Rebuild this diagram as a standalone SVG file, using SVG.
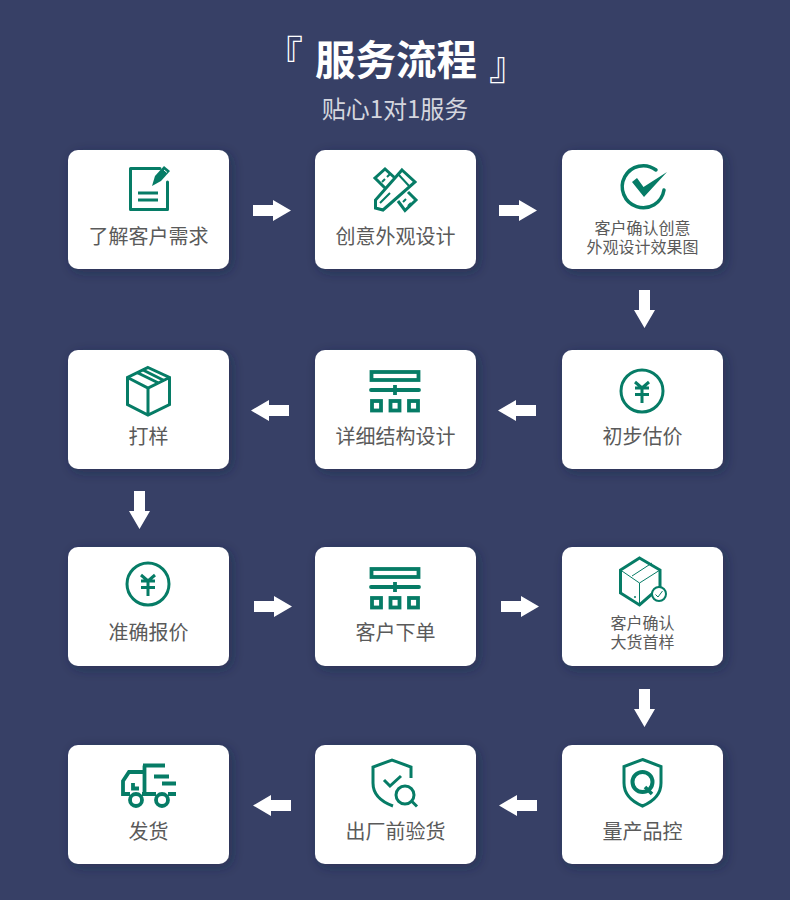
<svg xmlns="http://www.w3.org/2000/svg" width="790" height="900" viewBox="0 0 790 900">
<style>
text{font-family:"Noto Sans CJK SC","Noto Sans",sans-serif;text-anchor:middle}
.card{fill:#fff;filter:url(#sh)}
.lb{font-size:20px;fill:#5a5a5a}
.sm{font-size:16px;fill:#5a5a5a}
.ic{fill:none;stroke:#067c66;stroke-width:3;stroke-linejoin:miter}
.rd{stroke-linecap:round;stroke-linejoin:round}
.th{stroke-width:1}
.hv{stroke-width:3.800}
.f{fill:#067c66;stroke:none}
.arrow{fill:#fff}
</style>
<defs>
<filter id="sh" x="-20%" y="-20%" width="150%" height="150%"><feDropShadow dx="3" dy="3" stdDeviation="6" flood-color="#1a2040" flood-opacity=".45"/></filter>
<path id="ar" d="M-19-5.500H1V-10.500L19 0 1 10.500V5.500H-19Z"/>
<g id="struct"><rect class="ic hv" x="371.500" y="372" width="47" height="8"/><path class="ic rd hv" d="M371 390H419"/><path class="ic hv" d="M395 385V395"/><rect class="ic hv" x="372" y="401" width="9" height="9.500"/><rect class="ic hv" x="390.500" y="401" width="9" height="9.500"/><rect class="ic hv" x="409" y="401" width="9" height="9.500"/></g>
<g id="yen"><circle class="ic" cx="0" cy="0" r="21"/><path class="ic" d="M-7-9 0-3 7-9M-7-3H7M-7 3.500H7M0-3V12"/></g>
</defs>
<rect width="790" height="900" fill="#374066"/>
<g id="title">
<text x="284" y="68" font-size="38" font-weight="400" fill="#fff">『</text>
<text x="396" y="75" font-size="40.500" font-weight="700" fill="#fff">服务流程</text>
<text x="508" y="79" font-size="38" font-weight="400" fill="#fff">』</text>
<text x="395" y="118" font-size="24" fill="#d4d6de">贴心1对1服务</text>
</g>
<g id="connectors" class="arrow">
<use href="#ar" transform="translate(272 210.500)"/>
<use href="#ar" transform="translate(518 210.500)"/>
<use href="#ar" transform="translate(644.500 309) rotate(90)"/>
<use href="#ar" transform="translate(517 410.500) rotate(180)"/>
<use href="#ar" transform="translate(270 410.500) rotate(180)"/>
<use href="#ar" transform="translate(139.500 510) rotate(90)"/>
<use href="#ar" transform="translate(273 606.500)"/>
<use href="#ar" transform="translate(520 606.500)"/>
<use href="#ar" transform="translate(644.500 708) rotate(90)"/>
<use href="#ar" transform="translate(518 805.500) rotate(180)"/>
<use href="#ar" transform="translate(272 805.500) rotate(180)"/>
</g>
<g id="n1"><rect class="card" x="68" y="150" width="161" height="119" rx="10"/>
<path class="ic rd" d="M160 168.500H130.500V209.500H167.500V182"/><path class="f" d="M152 186 155 176 164 166 170 171 161 181Z"/><path class="ic" d="M138 193H158M138 200H158"/><path d="M164 170 167 172.500" stroke="#fff" stroke-width="1" fill="none"/>
<text class="lb" x="148.500" y="244">了解客户需求</text></g>
<g id="n2"><rect class="card" x="315" y="150" width="161" height="119" rx="10"/>
<path class="ic" d="M385 188 375 178 385 169 395 178M398 201 405 210.500 416 200 408 192M402 170 415 182 383 210 375.500 208 375.500 200Z"/><path class="ic" style="stroke-width:2" d="M398 174 410 187M380 203 390 193M382 182 385 179M387 177 390 174M403 202 406 199M408 206 411 203"/>
<text class="lb" x="395.500" y="244">创意外观设计</text></g>
<g id="n3"><rect class="card" x="562" y="150" width="161" height="119" rx="10"/>
<path class="ic rd" style="stroke-width:3.500" d="M664 190A21 21 0 1 1 656 170"/><path class="f" d="M632 182 637 178 643.500 187 667 172 644 197Z"/>
<text class="sm" x="642.500"><tspan x="642.500" y="234">客户确认创意</tspan><tspan x="642.500" y="253">外观设计效果图</tspan></text></g>
<g id="n4"><rect class="card" x="562" y="350" width="161" height="119" rx="10"/>
<use href="#yen" x="642" y="391"/>
<text class="lb" x="642.500" y="444">初步估价</text></g>
<g id="n5"><rect class="card" x="315" y="350" width="161" height="119" rx="10"/>
<use href="#struct"/>
<text class="lb" x="395.500" y="444">详细结构设计</text></g>
<g id="n6"><rect class="card" x="68" y="350" width="161" height="119" rx="10"/>
<path class="ic" d="M148 367.500 169.500 377.500V404.500L148 415 127.500 404.500V377.500ZM127.500 377.500 148 388 169.500 377.500M148 388V415M137 372.500 158.500 383M143 370 164 380.500"/>
<text class="lb" x="148.500" y="444">打样</text></g>
<g id="n7"><rect class="card" x="68" y="547" width="161" height="119" rx="10"/>
<use href="#yen" x="148" y="584"/>
<text class="lb" x="148.500" y="640">准确报价</text></g>
<g id="n8"><rect class="card" x="315" y="547" width="161" height="119" rx="10"/>
<use href="#struct" y="197"/>
<text class="lb" x="395.500" y="640">客户下单</text></g>
<g id="n9"><rect class="card" x="562" y="547" width="161" height="119" rx="10"/>
<path class="ic" d="M639.500 558 660 570V587L639.500 605 620.500 593V570Z"/><path class="ic th" d="M620.500 570 639.500 583 660 570M639.500 583V605M632 576 652 563"/><circle class="ic" style="stroke-width:2;fill:#fff" cx="659" cy="594" r="7"/><path class="ic th" d="M655.500 594.500 658 597 662.500 591"/><circle class="f" cx="635" cy="597" r="1"/>
<text class="sm" x="642.500"><tspan x="642.500" y="629">客户确认</tspan><tspan x="642.500" y="648">大货首样</tspan></text></g>
<g id="n10"><rect class="card" x="562" y="745" width="161" height="119" rx="10"/>
<path class="ic" d="M642.500 759.500 661 766.500V783C661 795 652 802 642.500 806 633 802 624 795 624 783V766.500Z"/><circle class="ic" style="stroke-width:4" cx="642.500" cy="782" r="10"/><path class="ic" style="stroke-width:3.500" d="M645 787 652 794"/>
<text class="lb" x="642.500" y="839">量产品控</text></g>
<g id="n11"><rect class="card" x="315" y="745" width="161" height="119" rx="10"/>
<path class="ic" d="M411 778V767L392 760 373 767V783C373 795 382 802 393 806"/><path class="ic" d="M384 780 390 786 401 776"/><circle class="ic" cx="405" cy="795" r="9"/><path class="ic" d="M411.500 801 417 806.500"/>
<text class="lb" x="395.500" y="839">出厂前验货</text></g>
<g id="n12"><rect class="card" x="68" y="745" width="161" height="119" rx="10"/>
<path class="ic hv" d="M143 772H129L123 781V794H130M142 794H156M168 794H176M144.500 765.500V794M143 765.500H165M154 776.500H169M162 783.500H176M133 783V788.500H139"/><circle class="ic hv" cx="136" cy="800" r="6"/><circle class="ic hv" cx="162" cy="800" r="6"/>
<text class="lb" x="148.500" y="839">发货</text></g>
</svg>
